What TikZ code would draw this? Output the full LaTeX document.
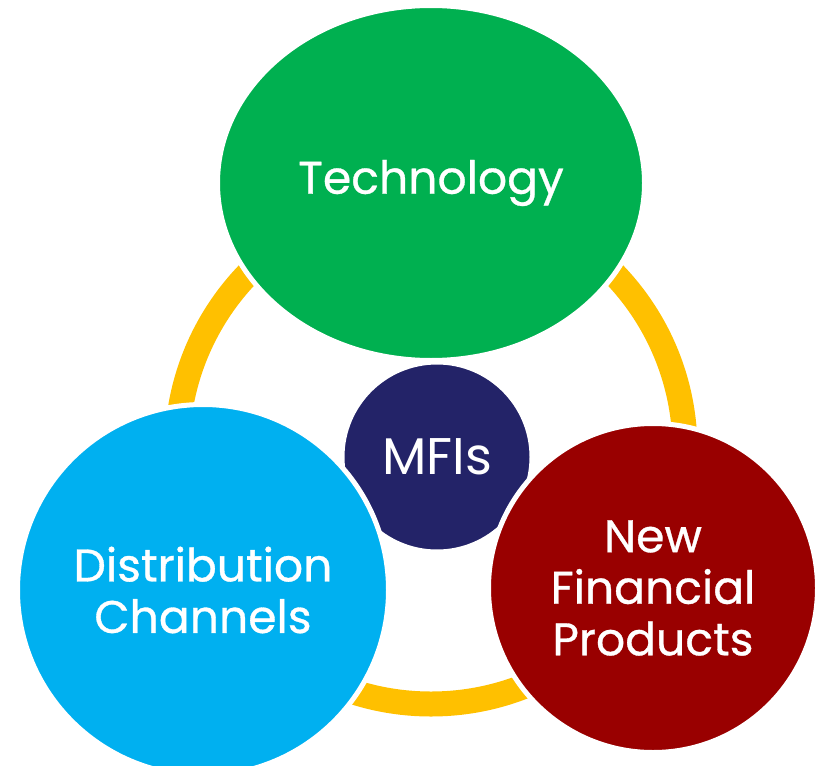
\documentclass[tikz,border=0pt]{standalone}
\usepackage{fontspec}
\setmainfont{Poppins}
\newfontfamily\topicfont{Poppins}[FakeBold=0.7]
\usepackage{tikz}
\usetikzlibrary{shapes.geometric}

\definecolor{techgreen}{HTML}{00B050}
\definecolor{channelblue}{HTML}{00B0F0}
\definecolor{productred}{HTML}{990000}
\definecolor{mfinavy}{HTML}{232368}
\definecolor{ringgold}{HTML}{FFC000}

\begin{document}
\begin{tikzpicture}[
		font=\topicfont\fontsize{39}{44}\selectfont,
		topic/.style={
			circle,
			draw=white,
			line width=1.5mm,
			inner sep=0pt,
			text=white,
			align=center
		},
		core/.style={
			topic,
			fill=mfinavy,
			minimum size=57mm,
			font=\rmfamily\fontsize{44}{48}\selectfont
		},
		ring/.style={
			draw=ringgold,
			line width=7.5mm
		}
		]
		
		\useasboundingbox (0,0) rectangle (24.48,-22.98);
		
		% yellow ring behind everything
		\coordinate (hub) at (12.93,-13.5);
		\draw[ring] (hub) circle (76.2mm);
		
		% MFIs in the middle
		\node[core] (mfi) at (13.11,-13.71) {MFIs};
		
		% three topics round the ring
		\node[topic, ellipse, fill=techgreen,
			minimum width=128.1mm, minimum height=106.5mm] (tech)
			at (12.93,-5.49) {Technology};
		
		\node[topic, fill=channelblue, minimum size=111.3mm] (chan)
			at (6.09,-17.7) {Distribution\\Channels};
		
		\node[topic, fill=productred, minimum size=98.7mm] (prod)
			at (19.59,-17.64) {New\\Financial\\Products};
		
	\end{tikzpicture}
\end{document}
